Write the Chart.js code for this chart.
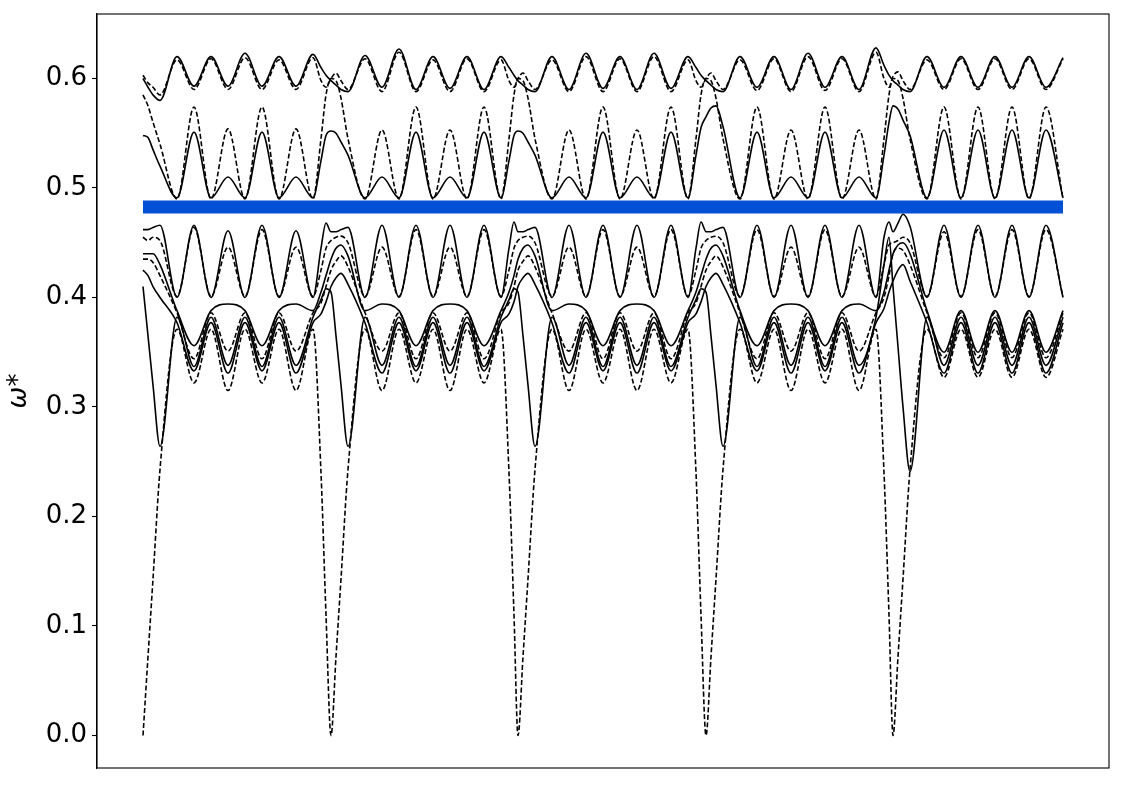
<!DOCTYPE html>
<html>
<head>
<meta charset="utf-8">
<script src="https://cdn.jsdelivr.net/npm/chart.js@4.4.1/dist/chart.umd.min.js"></script>
<style>
  body { margin: 0; background: #fff; }
  #wrap { width: 1125px; height: 785px; }
</style>
</head>
<body>
<div id="wrap"><canvas id="bands" width="1125" height="785"></canvas></div>
<script>
'use strict';

// path coordinate along the k-path (no tick labels on x in the original)
const segStarts = [0, 188, 375, 563, 750];
const segOffsets = [0, 5, 10, 17, 34, 51, 68, 85, 102, 119, 136, 153, 170, 178, 183];
const pathEnd = 920;

const yTicks = [0.0, 0.1, 0.2, 0.3, 0.4, 0.5, 0.6];

// band gap (blue strip)
const gapLow = 0.4767;
const gapHigh = 0.4886;

// one row per segment, values at the points of segOffsets
const topSolid = [
  [0.600, 0.592, 0.585, 0.580, 0.620, 0.593, 0.620, 0.593, 0.623, 0.593, 0.620, 0.593, 0.622, 0.610, 0.603],
  [0.598, 0.594, 0.590, 0.588, 0.621, 0.592, 0.627, 0.590, 0.620, 0.591, 0.620, 0.590, 0.620, 0.610, 0.603],
  [0.598, 0.594, 0.590, 0.588, 0.620, 0.590, 0.623, 0.591, 0.620, 0.590, 0.623, 0.591, 0.620, 0.610, 0.603],
  [0.598, 0.594, 0.590, 0.588, 0.620, 0.592, 0.620, 0.590, 0.623, 0.592, 0.620, 0.590, 0.628, 0.612, 0.603],
  [0.598, 0.594, 0.590, 0.588, 0.620, 0.592, 0.620, 0.592, 0.620, 0.592, 0.620, 0.592, 0.619],
].flat();

const topDashed = [
  [0.603, 0.596, 0.592, 0.585, 0.617, 0.590, 0.618, 0.590, 0.619, 0.590, 0.617, 0.590, 0.619, 0.598, 0.592],
  [0.600, 0.605, 0.598, 0.590, 0.618, 0.588, 0.624, 0.588, 0.617, 0.588, 0.618, 0.588, 0.617, 0.598, 0.592],
  [0.600, 0.605, 0.598, 0.590, 0.617, 0.588, 0.620, 0.588, 0.618, 0.588, 0.620, 0.588, 0.617, 0.598, 0.592],
  [0.600, 0.605, 0.598, 0.590, 0.617, 0.589, 0.618, 0.588, 0.620, 0.589, 0.618, 0.588, 0.624, 0.600, 0.592],
  [0.602, 0.606, 0.598, 0.590, 0.617, 0.590, 0.618, 0.590, 0.618, 0.590, 0.618, 0.590, 0.618],
].flat();

const upperOuter = [
  [0.585, 0.575, 0.560, 0.540, 0.490, 0.574, 0.490, 0.554, 0.490, 0.574, 0.490, 0.554, 0.490, 0.545, 0.585],
  [0.600, 0.598, 0.582, 0.545, 0.490, 0.553, 0.490, 0.574, 0.490, 0.553, 0.490, 0.574, 0.490, 0.545, 0.585],
  [0.600, 0.598, 0.582, 0.545, 0.490, 0.553, 0.490, 0.574, 0.490, 0.553, 0.490, 0.574, 0.490, 0.545, 0.585],
  [0.600, 0.598, 0.582, 0.545, 0.490, 0.574, 0.490, 0.553, 0.490, 0.574, 0.490, 0.553, 0.490, 0.545, 0.585],
  [0.600, 0.598, 0.582, 0.545, 0.490, 0.574, 0.490, 0.574, 0.490, 0.574, 0.490, 0.574, 0.490],
].flat();

const upperInner = [
  [0.548, 0.546, 0.535, 0.520, 0.491, 0.551, 0.491, 0.510, 0.491, 0.551, 0.491, 0.510, 0.491, 0.525, 0.548],
  [0.552, 0.550, 0.542, 0.530, 0.491, 0.510, 0.491, 0.551, 0.491, 0.510, 0.491, 0.551, 0.491, 0.525, 0.548],
  [0.552, 0.550, 0.542, 0.530, 0.491, 0.510, 0.491, 0.551, 0.491, 0.510, 0.491, 0.551, 0.491, 0.530, 0.555],
  [0.565, 0.573, 0.575, 0.556, 0.491, 0.551, 0.491, 0.510, 0.491, 0.551, 0.491, 0.510, 0.491, 0.530, 0.560],
  [0.575, 0.572, 0.562, 0.548, 0.491, 0.553, 0.491, 0.553, 0.491, 0.553, 0.491, 0.553, 0.491],
].flat();

const midOuter = [
  [0.462, 0.462, 0.464, 0.466, 0.400, 0.466, 0.400, 0.461, 0.400, 0.466, 0.400, 0.461, 0.400, 0.445, 0.468],
  [0.460, 0.460, 0.462, 0.464, 0.400, 0.466, 0.400, 0.466, 0.400, 0.466, 0.400, 0.466, 0.400, 0.445, 0.469],
  [0.460, 0.460, 0.462, 0.464, 0.400, 0.466, 0.400, 0.466, 0.400, 0.466, 0.400, 0.466, 0.400, 0.445, 0.469],
  [0.460, 0.460, 0.462, 0.464, 0.400, 0.466, 0.400, 0.466, 0.400, 0.466, 0.400, 0.466, 0.400, 0.455, 0.469],
  [0.460, 0.468, 0.476, 0.465, 0.400, 0.466, 0.400, 0.466, 0.400, 0.466, 0.400, 0.466, 0.400],
].flat();

const midInner = [
  [0.455, 0.452, 0.455, 0.452, 0.401, 0.464, 0.401, 0.446, 0.401, 0.462, 0.401, 0.446, 0.401, 0.425, 0.445],
  [0.452, 0.455, 0.456, 0.450, 0.401, 0.446, 0.401, 0.462, 0.401, 0.446, 0.401, 0.462, 0.401, 0.425, 0.445],
  [0.452, 0.455, 0.456, 0.450, 0.401, 0.446, 0.401, 0.462, 0.401, 0.446, 0.401, 0.462, 0.401, 0.425, 0.445],
  [0.452, 0.455, 0.456, 0.450, 0.401, 0.462, 0.401, 0.446, 0.401, 0.462, 0.401, 0.446, 0.401, 0.430, 0.448],
  [0.450, 0.452, 0.455, 0.450, 0.401, 0.460, 0.401, 0.462, 0.401, 0.462, 0.401, 0.462, 0.401],
].flat();

const lowTop = [
  [0.440, 0.440, 0.440, 0.430, 0.388, 0.356, 0.388, 0.394, 0.388, 0.356, 0.388, 0.394, 0.388, 0.405, 0.420],
  [0.435, 0.445, 0.448, 0.438, 0.388, 0.394, 0.388, 0.356, 0.388, 0.394, 0.388, 0.356, 0.388, 0.405, 0.420],
  [0.435, 0.445, 0.448, 0.438, 0.388, 0.394, 0.388, 0.356, 0.388, 0.394, 0.388, 0.356, 0.388, 0.405, 0.420],
  [0.435, 0.445, 0.448, 0.438, 0.388, 0.356, 0.388, 0.394, 0.388, 0.356, 0.388, 0.394, 0.388, 0.405, 0.425],
  [0.440, 0.448, 0.450, 0.440, 0.388, 0.350, 0.388, 0.350, 0.388, 0.350, 0.388, 0.350, 0.388],
].flat();

const lowDashed = [
  [0.435, 0.435, 0.432, 0.420, 0.386, 0.344, 0.386, 0.351, 0.386, 0.344, 0.386, 0.351, 0.386, 0.395, 0.410],
  [0.425, 0.433, 0.438, 0.428, 0.386, 0.351, 0.386, 0.344, 0.386, 0.351, 0.386, 0.344, 0.386, 0.395, 0.410],
  [0.425, 0.433, 0.438, 0.428, 0.386, 0.351, 0.386, 0.344, 0.386, 0.351, 0.386, 0.344, 0.386, 0.395, 0.410],
  [0.425, 0.433, 0.438, 0.428, 0.386, 0.344, 0.386, 0.351, 0.386, 0.344, 0.386, 0.351, 0.386, 0.400, 0.420],
  [0.440, 0.445, 0.443, 0.430, 0.386, 0.345, 0.386, 0.345, 0.386, 0.345, 0.386, 0.345, 0.386],
].flat();

const lowSolid = [
  [0.425, 0.420, 0.410, 0.400, 0.377, 0.333, 0.377, 0.331, 0.377, 0.333, 0.377, 0.331, 0.377, 0.385, 0.396],
  [0.410, 0.418, 0.422, 0.412, 0.377, 0.331, 0.377, 0.333, 0.377, 0.331, 0.377, 0.333, 0.377, 0.385, 0.396],
  [0.410, 0.418, 0.422, 0.412, 0.377, 0.331, 0.377, 0.333, 0.377, 0.331, 0.377, 0.333, 0.377, 0.385, 0.396],
  [0.410, 0.418, 0.422, 0.412, 0.377, 0.333, 0.377, 0.331, 0.377, 0.333, 0.377, 0.331, 0.377, 0.390, 0.405],
  [0.415, 0.425, 0.430, 0.415, 0.377, 0.331, 0.377, 0.331, 0.377, 0.331, 0.377, 0.331, 0.377],
].flat();

const lowDip = [
  [0.410, 0.365, 0.320, 0.264, 0.382, 0.337, 0.382, 0.338, 0.382, 0.337, 0.382, 0.338, 0.382, 0.398, 0.408],
  [0.405, 0.365, 0.320, 0.264, 0.382, 0.338, 0.382, 0.337, 0.382, 0.338, 0.382, 0.337, 0.382, 0.398, 0.408],
  [0.405, 0.365, 0.320, 0.264, 0.382, 0.338, 0.382, 0.337, 0.382, 0.338, 0.382, 0.337, 0.382, 0.398, 0.408],
  [0.405, 0.365, 0.320, 0.264, 0.382, 0.337, 0.382, 0.338, 0.382, 0.337, 0.382, 0.338, 0.382, 0.430, 0.455],
  [0.410, 0.355, 0.300, 0.241, 0.382, 0.338, 0.382, 0.338, 0.382, 0.338, 0.382, 0.338, 0.382],
].flat();

const acoustic = [
  [0.000, 0.072, 0.143, 0.243, 0.371, 0.322, 0.371, 0.315, 0.371, 0.322, 0.371, 0.315, 0.371, 0.240, 0.110],
  [0.000, 0.072, 0.143, 0.243, 0.371, 0.315, 0.371, 0.322, 0.371, 0.315, 0.371, 0.322, 0.371, 0.240, 0.110],
  [0.000, 0.072, 0.143, 0.243, 0.371, 0.315, 0.371, 0.322, 0.371, 0.315, 0.371, 0.322, 0.371, 0.240, 0.110],
  [0.000, 0.072, 0.143, 0.243, 0.371, 0.322, 0.371, 0.315, 0.371, 0.322, 0.371, 0.315, 0.371, 0.240, 0.110],
  [0.000, 0.072, 0.143, 0.243, 0.371, 0.327, 0.371, 0.327, 0.371, 0.327, 0.371, 0.327, 0.371],
].flat();

// x positions shared by every curve (last segment stops at pathEnd)
const pathX = segStarts.flatMap((start, k) =>
  segOffsets.filter((o) => k < segStarts.length - 1 || start + o <= pathEnd).map((o) => start + o)
);

function curve(values, dashed) {
  return {
    data: pathX.map((x, i) => ({ x: x, y: values[i] })),
    borderColor: '#000',
    borderWidth: 1.6,
    borderDash: dashed ? [5, 2.5] : [],
    pointRadius: 0,
    cubicInterpolationMode: 'monotone',
    fill: false,
  };
}

const datasets = [
  curve(topSolid, false),
  curve(topDashed, true),
  curve(upperOuter, true),
  curve(upperInner, false),
  curve(midOuter, false),
  curve(midInner, true),
  curve(lowTop, false),
  curve(lowDashed, true),
  curve(lowSolid, false),
  curve(lowDip, false),
  curve(acoustic, true),
  {
    data: [{ x: 0, y: gapLow }, { x: pathEnd, y: gapLow }],
    borderWidth: 0,
    pointRadius: 0,
    fill: { value: gapHigh },
    backgroundColor: '#0050d6',
  },
];

// matplotlib-like box around the plot
const frame = {
  id: 'frame',
  afterDraw(chart) {
    const { ctx, chartArea: a } = chart;
    ctx.save();
    ctx.strokeStyle = '#000';
    ctx.lineWidth = 1.1;
    ctx.strokeRect(a.left, a.top, a.right - a.left, a.bottom - a.top);
    ctx.restore();
  },
};

new Chart(document.getElementById('bands'), {
  type: 'line',
  data: { datasets: datasets },
  options: {
    responsive: false,
    devicePixelRatio: 1,
    animation: false,
    layout: { padding: { left: 0, top: 14, right: 16, bottom: 17 } },
    plugins: { legend: { display: false }, tooltip: { enabled: false } },
    scales: {
      x: { type: 'linear', min: -46, max: 966, display: false },
      y: {
        type: 'linear',
        min: -0.0297,
        max: 0.6589,
        afterBuildTicks: (scale) => {
          scale.ticks = yTicks.map((v) => ({ value: v }));
        },
        afterFit: (scale) => {
          scale.width = 97;
          scale.paddingTop = 0;
          scale.paddingBottom = 0;
        },
        ticks: {
          color: '#000',
          padding: 5,
          font: { family: 'DejaVu Sans', size: 26 },
          callback: (v) => Number(v).toFixed(1),
        },
        grid: {
          drawOnChartArea: false,
          drawTicks: true,
          tickLength: 5,
          tickColor: '#000',
          tickWidth: 1.1,
        },
        border: { display: true, color: '#000', width: 1.1 },
        title: {
          display: true,
          text: 'ω*',
          color: '#000',
          font: { family: 'DejaVu Sans', size: 26, style: 'italic' },
          padding: { top: 4, bottom: 0 },
        },
      },
    },
  },
  plugins: [frame],
});
</script>
</body>
</html>
